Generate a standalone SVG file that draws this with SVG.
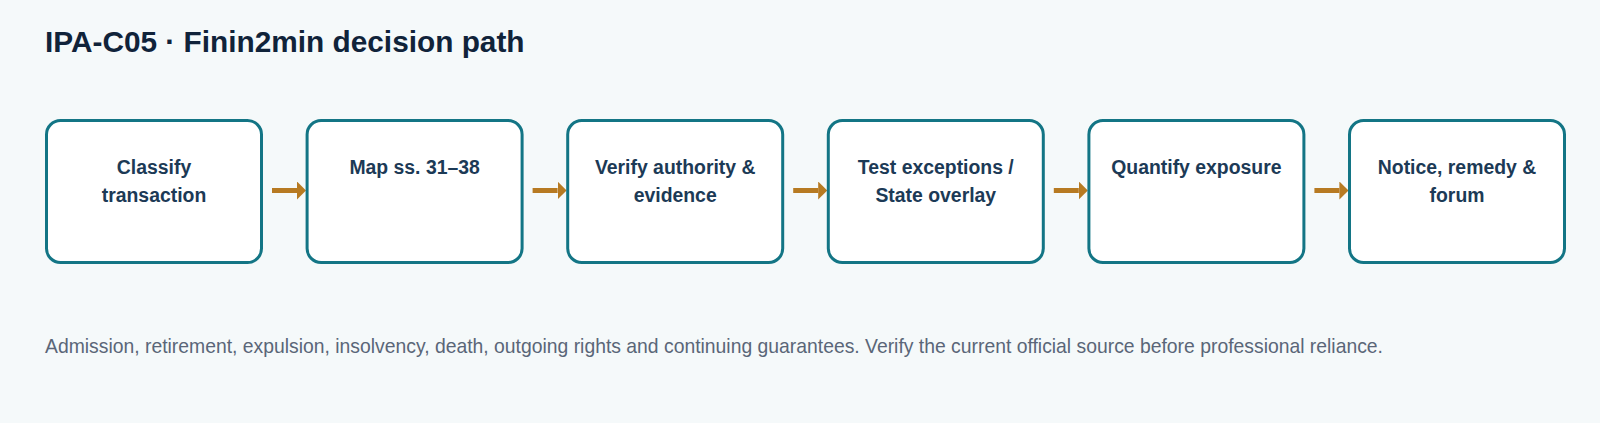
<svg xmlns="http://www.w3.org/2000/svg" width="1600" height="423" viewBox="0 0 1600 423">
<style>
.title{font-family:"Liberation Sans",Arial,sans-serif;font-weight:bold;font-size:29.8px;fill:#10233a}
.box{fill:#ffffff;stroke:#137585;stroke-width:3}
.lbl{font-family:"Liberation Sans",Arial,sans-serif;font-weight:bold;font-size:19.4px;fill:#1c3a56;text-anchor:middle}
.conn{stroke:#b77a22;stroke-width:5;fill:none}
.foot{font-family:"Liberation Sans",Arial,sans-serif;font-size:19.35px;fill:#5a6678}
</style>
<defs>
<marker id="ah" markerUnits="userSpaceOnUse" markerWidth="9" markerHeight="18" refX="0" refY="9" orient="auto">
<path d="M0,0 L9,9 L0,18 z" fill="#b77a22"/>
</marker>
</defs>
<rect width="1600" height="423" fill="#f5f9fa"/>
<text class="title" x="45" y="52">IPA-C05 · Finin2min decision path</text>
<g id="connectors">
<line class="conn" x1="272" y1="190.5" x2="297" y2="190.5" marker-end="url(#ah)"/>
<line class="conn" x1="532.6" y1="190.5" x2="557.6" y2="190.5" marker-end="url(#ah)"/>
<line class="conn" x1="793.2" y1="190.5" x2="818.2" y2="190.5" marker-end="url(#ah)"/>
<line class="conn" x1="1053.8" y1="190.5" x2="1078.8" y2="190.5" marker-end="url(#ah)"/>
<line class="conn" x1="1314.4" y1="190.5" x2="1339.4" y2="190.5" marker-end="url(#ah)"/>
</g>
<g id="n1"><rect class="box" x="46.5" y="120.5" width="215" height="142" rx="14"/><text class="lbl" x="154" y="174">Classify</text><text class="lbl" x="154" y="202">transaction</text></g>
<g id="n2"><rect class="box" x="307.1" y="120.5" width="215" height="142" rx="14"/><text class="lbl" x="414.6" y="174">Map ss. 31–38</text></g>
<g id="n3"><rect class="box" x="567.7" y="120.5" width="215" height="142" rx="14"/><text class="lbl" x="675.2" y="174">Verify authority &amp;</text><text class="lbl" x="675.2" y="202">evidence</text></g>
<g id="n4"><rect class="box" x="828.3" y="120.5" width="215" height="142" rx="14"/><text class="lbl" x="935.8" y="174">Test exceptions /</text><text class="lbl" x="935.8" y="202">State overlay</text></g>
<g id="n5"><rect class="box" x="1088.9" y="120.5" width="215" height="142" rx="14"/><text class="lbl" x="1196.4" y="174">Quantify exposure</text></g>
<g id="n6"><rect class="box" x="1349.5" y="120.5" width="215" height="142" rx="14"/><text class="lbl" x="1457" y="174">Notice, remedy &amp;</text><text class="lbl" x="1457" y="202">forum</text></g>
<text class="foot" x="45" y="353">Admission, retirement, expulsion, insolvency, death, outgoing rights and continuing guarantees. Verify the current official source before professional reliance.</text>
</svg>
